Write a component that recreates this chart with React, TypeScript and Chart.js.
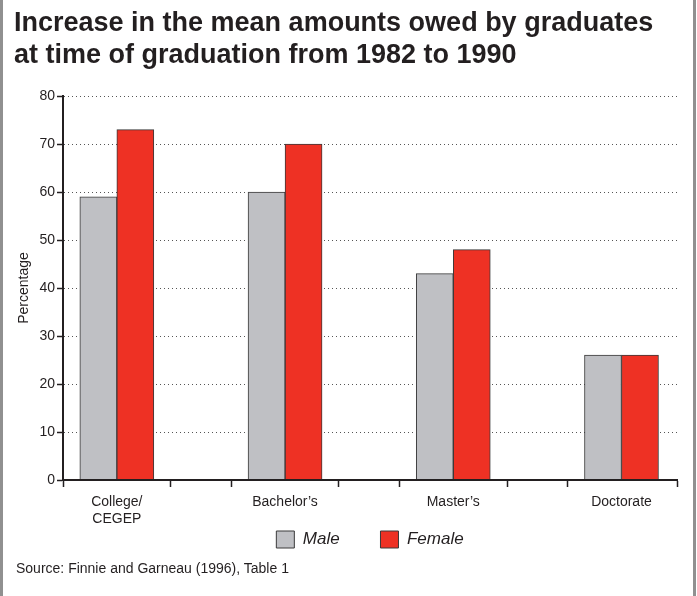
import React, { useEffect, useRef } from 'react';
import { Chart, registerables } from 'chart.js';

Chart.register(...registerables);

// ---- data ----
const categories: (string | string[])[] = [['College/', 'CEGEP'], 'Bachelor’s', 'Master’s', 'Doctorate'];
const seriesNames = ['Male', 'Female'];
const maleValues = [59, 60, 43, 26];
const femaleValues = [73, 70, 48, 26];
const yMin = 0;
const yMax = 80;
const yStep = 10;
const yAxisTitle = 'Percentage';
const titleLines = ['Increase in the mean amounts owed by graduates', 'at time of graduation from 1982 to 1990'];
const sourceText = 'Source: Finnie and Garneau (1996), Table 1';

// ---- style ----
const INK = '#231f20';
const FONT = "'Liberation Sans', Arial, Helvetica, sans-serif";
const MALE_FILL = '#bfc0c4';
const FEMALE_FILL = '#ee3124';
const BAR_EDGE = '#3a3a3a';
const EDGE = 0.32;
const X_MIN = -EDGE;
const X_MAX = categories.length - 1 + 0.33;
const LEGEND_GAP = '        '; // extra horizontal room after first legend entry

const isCenter = (v: number) => Math.abs(v - Math.round(v)) < 1e-6;

function buildXTicks(): number[] {
  const out: number[] = [X_MIN];
  for (let i = 0; i < categories.length; i++) {
    out.push(i);
    if (i < categories.length - 1) {
      out.push(i + EDGE);
      out.push(i + 1 - EDGE);
    }
  }
  out.push(X_MAX);
  return out;
}

export default function App() {
  const canvasRef = useRef<HTMLCanvasElement | null>(null);

  useEffect(() => {
    const canvas = canvasRef.current;
    if (!canvas) return;
    Chart.defaults.font.family = FONT;
    const xTickValues = buildXTicks();
    const chart = new Chart(canvas, {
      type: 'bar',
      data: {
        datasets: [
          {
            label: seriesNames[0],
            data: maleValues.map((v, i) => ({ x: i, y: v })),
            backgroundColor: MALE_FILL,
            borderColor: BAR_EDGE,
            borderWidth: 1,
            barThickness: 37,
          },
          {
            label: seriesNames[1],
            data: femaleValues.map((v, i) => ({ x: i, y: v })),
            backgroundColor: FEMALE_FILL,
            borderColor: BAR_EDGE,
            borderWidth: 1,
            barThickness: 37,
          },
        ],
      },
      options: {
        responsive: false,
        animation: false,
        layout: { padding: { top: 96, left: 0, right: 20, bottom: 38 } },
        scales: {
          x: {
            type: 'linear',
            min: X_MIN,
            max: X_MAX,
            offset: false,
            afterBuildTicks: (s: any) => {
              s.ticks = xTickValues.map((v) => ({ value: v }));
            },
            afterFit: (s: any) => {
              s.height = 48;
            },
            grid: {
              offset: false,
              drawOnChartArea: false,
              drawTicks: true,
              tickLength: 7,
              tickWidth: 1.5,
              tickColor: (ctx: any) => (ctx.tick && isCenter(ctx.tick.value) ? 'rgba(0,0,0,0)' : INK),
            },
            border: { display: true, color: INK, width: 2, z: 1 },
            ticks: {
              autoSkip: false,
              maxRotation: 0,
              minRotation: 0,
              padding: 7,
              color: INK,
              font: { family: FONT, size: 14 },
              callback: (v: any) => (isCenter(Number(v)) ? (categories[Math.round(Number(v))] as any) : ''),
            },
          },
          y: {
            min: yMin,
            max: yMax,
            afterFit: (s: any) => {
              s.width = 63;
            },
            ticks: { stepSize: yStep, padding: 2, color: INK, font: { family: FONT, size: 14 } },
            grid: {
              color: '#555',
              lineWidth: 1,
              drawTicks: true,
              tickLength: 6,
              tickColor: INK,
              tickWidth: 1.5,
              tickBorderDash: [],
            } as any,
            border: { display: true, color: INK, width: 2, dash: [1, 3], z: 1 },
            title: {
              display: true,
              text: yAxisTitle,
              color: INK,
              font: { family: FONT, size: 14 },
              padding: { top: 16, bottom: 0 },
            },
          },
        },
        plugins: {
          legend: {
            position: 'bottom',
            fullSize: false,
            labels: {
              boxWidth: 18,
              boxHeight: 17,
              padding: 3,
              color: INK,
              font: { family: FONT, size: 17, style: 'italic' },
              generateLabels: (c: any) => {
                const items = Chart.defaults.plugins.legend.labels.generateLabels(c);
                return items.map((it: any, i: number) =>
                  i < items.length - 1 ? { ...it, text: it.text + LEGEND_GAP } : it
                );
              },
            },
          },
          title: { display: false },
          tooltip: { enabled: false },
        },
      } as any,
    });
    return () => chart.destroy();
  }, []);

  return (
    <div
      style={{
        position: 'absolute',
        left: 0,
        top: 0,
        width: 697,
        height: 596,
        background: '#ffffff',
        overflow: 'hidden',
      }}
    >
      <canvas ref={canvasRef} width={697} height={596} style={{ position: 'absolute', left: 0, top: 0, width: 697, height: 596 }} />
      <div
        style={{
          position: 'absolute',
          left: 14,
          top: 6,
          fontFamily: FONT,
          fontWeight: 'bold',
          fontSize: 27,
          lineHeight: '32px',
          color: INK,
          whiteSpace: 'nowrap',
        }}
      >
        {titleLines.map((t, i) => (
          <div key={i}>{t}</div>
        ))}
      </div>
      <div
        style={{
          position: 'absolute',
          left: 16,
          top: 560,
          fontFamily: FONT,
          fontSize: 14,
          lineHeight: '16px',
          color: INK,
          whiteSpace: 'nowrap',
        }}
      >
        {sourceText}
      </div>
      <div style={{ position: 'absolute', left: 0, top: 0, width: 3, height: 596, background: '#909090' }} />
      <div style={{ position: 'absolute', left: 693, top: 0, width: 3, height: 596, background: '#909090' }} />
    </div>
  );
}
